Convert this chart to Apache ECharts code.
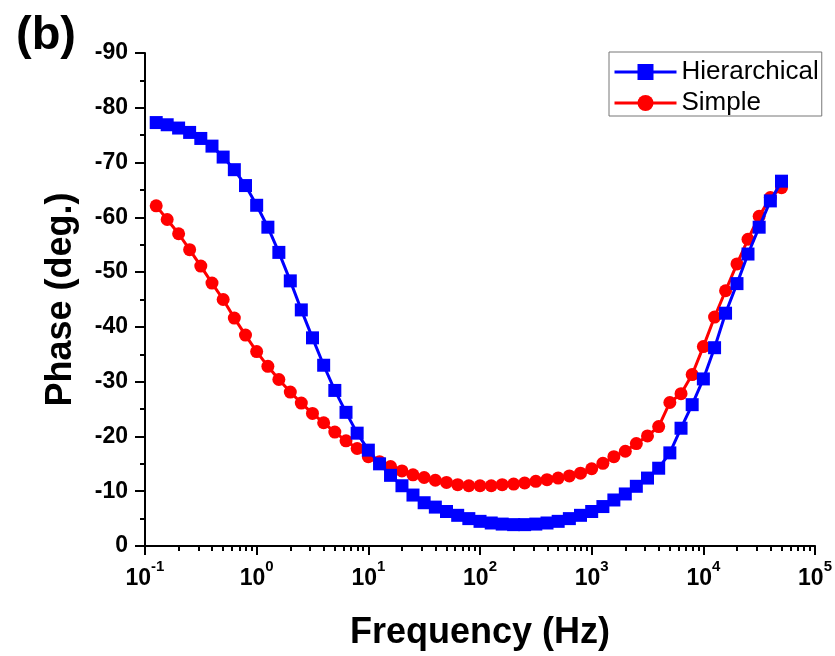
<!DOCTYPE html>
<html>
<head>
<meta charset="utf-8">
<script src="https://cdn.jsdelivr.net/npm/echarts@6/dist/echarts.min.js"></script>
<style>
html,body{margin:0;padding:0;background:#fff;}
#chart{width:835px;height:656px;}
</style>
</head>
<body>
<div id="chart"></div>
<script>
// Frequencies (Hz), 10 points per decade
var frequency = [0.126,0.158,0.2,0.251,0.316,0.398,0.501,0.631,0.794,
  1,1.26,1.58,2,2.51,3.16,3.98,5.01,6.31,7.94,
  10,12.6,15.8,20,25.1,31.6,39.8,50.1,63.1,79.4,
  100,126,158,200,251,316,398,501,631,794,
  1000,1260,1580,2000,2510,3160,3980,5010,6310,7940,
  10000,12600,15800,20000,25100,31600,39800,50100];
// Phase (deg.)
var hierarchical = [-77.3,-76.9,-76.3,-75.5,-74.4,-73.0,-71.0,-68.7,-65.8,-62.2,
  -58.2,-53.6,-48.4,-43.1,-38.0,-33.0,-28.4,-24.4,-20.6,-17.5,
  -15.0,-12.9,-11.0,-9.3,-7.9,-7.1,-6.3,-5.6,-5.0,-4.5,
  -4.2,-4.0,-3.9,-3.9,-4.0,-4.2,-4.5,-5.0,-5.6,-6.3,
  -7.2,-8.4,-9.5,-10.9,-12.4,-14.2,-17.0,-21.5,-25.8,-30.5,
  -36.2,-42.5,-47.9,-53.3,-58.2,-63.0,-66.6];
var simple = [-62.1,-59.6,-57.0,-54.1,-51.1,-48.0,-45.0,-41.6,-38.5,-35.5,
  -32.8,-30.4,-28.1,-26.1,-24.2,-22.5,-20.8,-19.2,-17.8,-16.3,
  -15.4,-14.5,-13.7,-13.0,-12.5,-12.0,-11.6,-11.2,-11.0,-11.0,
  -11.0,-11.2,-11.3,-11.5,-11.8,-12.1,-12.4,-12.8,-13.3,-14.1,
  -15.1,-16.3,-17.3,-18.7,-20.1,-21.8,-26.2,-27.8,-31.3,-36.4,
  -41.8,-46.6,-51.5,-56.0,-60.2,-63.6,-65.4];
var majorTicks = [0.1,1,10,100,1000,10000,100000];
var minorMultipliers = [2,3,4,5,6,7,8,9];
var seriesNames = ['Hierarchical','Simple'];

var minorTicks = [];
for (var i = 0; i < majorTicks.length - 1; i++) {
  for (var j = 0; j < minorMultipliers.length; j++) {
    minorTicks.push(majorTicks[i] * minorMultipliers[j]);
  }
}
function pairs(xs, ys){ return xs.map(function(x,i){ return [x, ys[i]]; }); }

var FONT = "'Liberation Sans', Arial, sans-serif";
var chart = echarts.init(document.getElementById('chart'), null, {renderer:'canvas'});
chart.setOption({
  animation: false,
  backgroundColor: '#fff',
  title: {
    text: '(b)', left: 11, top: 8,
    textStyle: {fontFamily: FONT, fontWeight: 'bold', fontSize: 47, color: '#000'}
  },
  grid: {left: 145, right: 18, top: 53, bottom: 108},
  legend: {
    data: seriesNames,
    orient: 'vertical',
    left: 609, top: 52,
    padding: [7, 3, 0, 4],
    itemGap: 5,
    itemWidth: 62, itemHeight: 20,
    borderColor: '#777', borderWidth: 1,
    lineStyle: {width: 3},
    textStyle: {fontFamily: FONT, fontSize: 26, color: '#000'}
  },
  xAxis: [{
    type: 'log', logBase: 10, min: 0.1, max: 100000,
    position: 'bottom',
    name: 'Frequency (Hz)', nameLocation: 'middle', nameGap: 69,
    nameTextStyle: {fontFamily: FONT, fontWeight: 'bold', fontSize: 36, color: '#000'},
    axisLine: {show: true, onZero: false, lineStyle: {color: '#000', width: 2}},
    axisTick: {show: true, inside: false, length: 9, customValues: majorTicks, lineStyle: {color: '#000', width: 2}},
    minorTick: {show: false},
    splitLine: {show: false},
    axisLabel: {
      customValues: majorTicks,
      margin: 13,
      formatter: function(v){ return '{b|10}{s|' + Math.round(Math.log10(v)) + '}'; },
      rich: {
        b: {fontFamily: FONT, fontWeight: 'bold', fontSize: 23, color: '#000', padding: [8,0,0,0]},
        s: {fontFamily: FONT, fontWeight: 'bold', fontSize: 15, color: '#000', verticalAlign: 'top'}
      }
    }
  }, {
    type: 'log', logBase: 10, min: 0.1, max: 100000,
    position: 'bottom',
    axisLine: {show: false, onZero: false},
    axisTick: {show: true, inside: false, length: 5, customValues: minorTicks, lineStyle: {color: '#000', width: 2}},
    axisLabel: {show: false},
    splitLine: {show: false}
  }],
  yAxis: {
    type: 'value', min: -90, max: 0, interval: 10, inverse: true,
    name: 'Phase (deg.)', nameLocation: 'middle', nameGap: 66,
    nameTextStyle: {fontFamily: FONT, fontWeight: 'bold', fontSize: 36, color: '#000'},
    axisLine: {show: true, onZero: false, lineStyle: {color: '#000', width: 2}},
    axisTick: {show: true, inside: false, length: 10, lineStyle: {color: '#000', width: 2}},
    minorTick: {show: true, splitNumber: 2, length: 5, lineStyle: {color: '#000', width: 2}},
    splitLine: {show: false},
    axisLabel: {margin: 17, fontFamily: FONT, fontWeight: 'bold', fontSize: 23, color: '#000'}
  },
  series: [{
    name: 'Hierarchical', type: 'line', z: 3,
    data: pairs(frequency, hierarchical),
    symbol: 'rect', symbolSize: 13,
    lineStyle: {color: '#0000FF', width: 3},
    itemStyle: {color: '#0000FF'}
  }, {
    name: 'Simple', type: 'line', z: 2,
    data: pairs(frequency, simple),
    symbol: 'circle', symbolSize: 13,
    lineStyle: {color: '#FF0000', width: 3},
    itemStyle: {color: '#FF0000'}
  }]
});
</script>
</body>
</html>
